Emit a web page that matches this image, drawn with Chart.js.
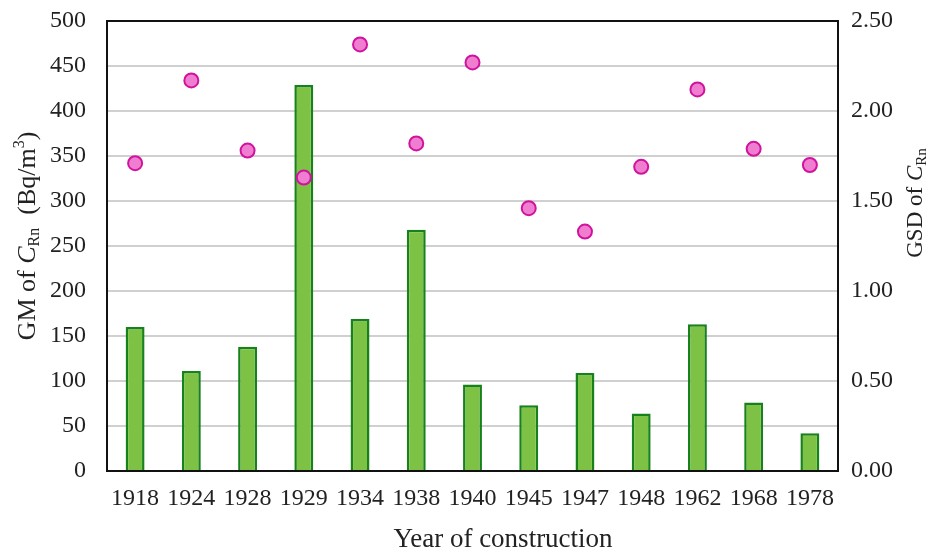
<!DOCTYPE html>
<html>
<head>
<meta charset="utf-8">
<script src="https://cdn.jsdelivr.net/npm/chart.js@4"></script>
<style>
  html, body { margin: 0; padding: 0; background: #fff; }
  #wrap { width: 935px; height: 551px; }
</style>
</head>
<body>
<div id="wrap"><canvas id="chart" width="935" height="551"></canvas></div>
<script>
// Data
const years = ['1918', '1924', '1928', '1929', '1934', '1938', '1940', '1945', '1947', '1948', '1962', '1968', '1978'];
const gmValues = [160, 111, 138, 429, 169, 268, 96, 73, 109, 64, 163, 76, 42];
const gsdValues = [1.71, 2.17, 1.78, 1.63, 2.37, 1.82, 2.27, 1.46, 1.33, 1.69, 2.12, 1.79, 1.70];
const leftTicks = [0, 50, 100, 150, 200, 250, 300, 350, 400, 450, 500];
const rightTicks = [0, 0.5, 1, 1.5, 2, 2.5];

const serif = "'Liberation Serif', 'DejaVu Serif', serif";
const textColor = '#222';

// Draw a title made of parts (sub/superscript, italic), centered on (x, y)
function drawParts(ctx, parts, x, y, angle) {
    ctx.save();
    ctx.translate(x, y);
    ctx.rotate(angle);
    let total = 0;
    parts.forEach(p => { ctx.font = p.font; total += ctx.measureText(p.t).width; });
    let cx = -total / 2;
    ctx.fillStyle = textColor;
    ctx.textBaseline = 'middle';
    ctx.textAlign = 'left';
    parts.forEach(p => {
        ctx.font = p.font;
        ctx.fillText(p.t, cx, p.dy || 0);
        cx += ctx.measureText(p.t).width;
    });
    ctx.restore();
}

const titlesPlugin = {
    id: 'titles',
    afterDraw(chart) {
        const ctx = chart.ctx;
        const a = chart.chartArea;
        // frame around the plot
        ctx.save();
        ctx.strokeStyle = '#111';
        ctx.lineWidth = 2;
        ctx.strokeRect(a.left, a.top, a.right - a.left, a.bottom - a.top);
        ctx.restore();

        drawParts(ctx, [
            { t: 'GM of ', font: '26px ' + serif },
            { t: 'C', font: 'italic 26px ' + serif },
            { t: 'Rn', font: '16px ' + serif, dy: 7 },
            { t: '  (Bq/m', font: '26px ' + serif },
            { t: '3', font: '16px ' + serif, dy: -8 },
            { t: ')', font: '26px ' + serif }
        ], 28, 236, -Math.PI / 2);

        drawParts(ctx, [
            { t: 'GSD of ', font: '23px ' + serif },
            { t: 'C', font: 'italic 23px ' + serif },
            { t: 'Rn', font: '15px ' + serif, dy: 6 }
        ], 916, 203, -Math.PI / 2);

        drawParts(ctx, [
            { t: 'Year of construction', font: '27px ' + serif }
        ], 503, 540, 0);
    }
};

// no extra padding from tick labels, so the plot area sits where the layout says
function noPad(scale) {
    scale.paddingTop = 0;
    scale.paddingBottom = 0;
    scale.paddingLeft = 0;
    scale.paddingRight = 0;
}

const ctx = document.getElementById('chart').getContext('2d');
new Chart(ctx, {
    type: 'bar',
    data: {
        labels: years,
        datasets: [
            {
                type: 'line',
                label: 'GSD',
                data: gsdValues,
                yAxisID: 'y1',
                showLine: false,
                pointRadius: 7,
                pointHoverRadius: 7,
                pointBackgroundColor: '#f07ed0',
                pointBorderColor: '#d0139e',
                pointBorderWidth: 2,
                order: 0
            },
            {
                label: 'GM',
                data: gmValues,
                yAxisID: 'y',
                backgroundColor: '#7dc244',
                borderColor: '#17821c',
                borderWidth: 2.5,
                borderSkipped: 'bottom',
                barPercentage: 0.58,
                categoryPercentage: 0.58,
                order: 1
            }
        ]
    },
    options: {
        responsive: false,
        animation: false,
        layout: { padding: { top: 21, left: 0, right: 0, bottom: 0 } },
        plugins: {
            legend: { display: false },
            tooltip: { enabled: false }
        },
        scales: {
            x: {
                grid: { display: false, drawTicks: false },
                border: { display: false },
                ticks: { color: textColor, font: { family: serif, size: 24 }, padding: 13, maxRotation: 0, autoSkip: false },
                afterFit(scale) { scale.height = 80; noPad(scale); }
            },
            y: {
                position: 'left',
                min: 0,
                max: 500,
                afterBuildTicks(scale) { scale.ticks = leftTicks.map(v => ({ value: v })); },
                grid: { color: '#d0d0d0', lineWidth: 2, drawTicks: false },
                border: { display: false },
                ticks: { color: textColor, font: { family: serif, size: 24 }, padding: 21 },
                afterFit(scale) { scale.width = 107; noPad(scale); }
            },
            y1: {
                position: 'right',
                min: 0,
                max: 2.5,
                afterBuildTicks(scale) { scale.ticks = rightTicks.map(v => ({ value: v })); },
                grid: { display: false, drawTicks: false },
                border: { display: false },
                ticks: { color: textColor, font: { family: serif, size: 24 }, padding: 13, callback: v => Number(v).toFixed(2) },
                afterFit(scale) { scale.width = 97; noPad(scale); }
            }
        }
    },
    plugins: [titlesPlugin]
});
</script>
</body>
</html>
